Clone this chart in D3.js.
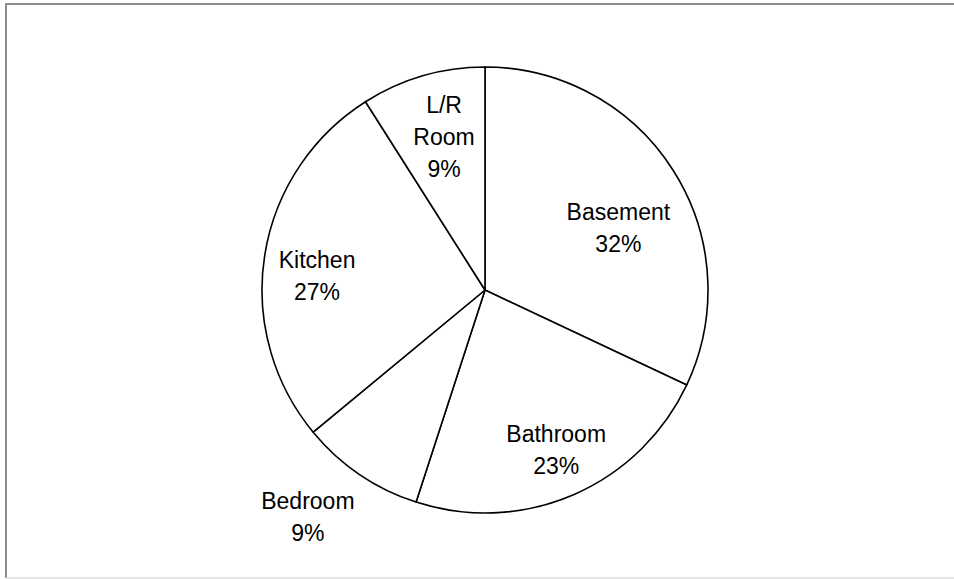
<!DOCTYPE html>
<html>
<head>
<meta charset="utf-8">
<script src="https://cdn.jsdelivr.net/npm/d3@7"></script>
<style>
  html, body { margin: 0; padding: 0; background: #fff; }
  svg { display: block; }
</style>
</head>
<body>
<div id="chart"></div>
<script>
// rooms and their share (percent), clockwise from 12 o'clock
const rooms = ["Basement", "Bathroom", "Bedroom", "Kitchen", "L/R Room"];
const shares = [32, 23, 9, 27, 9];
// how each label breaks into lines
const labelLines = [["Basement"], ["Bathroom"], ["Bedroom"], ["Kitchen"], ["L/R", "Room"]];

const width = 954;
const height = 579;
const cx = 485, cy = 290, radius = 223;

// label placement: angle (deg, clockwise from top) and distance as fraction of radius
const labelSpot = [
  { a: 65, r: 0.66 },
  { a: 156, r: 0.785 },
  { a: 218, r: 1.29 },
  { a: 275, r: 0.756 },
  { a: 345, r: 0.71 }
];

const data = rooms.map((room, i) => ({ room, share: shares[i], lines: labelLines[i].concat([shares[i] + "%"]), spot: labelSpot[i] }));

const svg = d3.select("#chart")
    .append("svg")
    .attr("width", width)
    .attr("height", height);

// frame
svg.append("line").attr("x1", 6).attr("x2", width).attr("y1", 4).attr("y2", 4)
    .attr("stroke", "#8c8c8c").attr("stroke-width", 2);
svg.append("line").attr("x1", 6).attr("x2", 6).attr("y1", 3).attr("y2", 578)
    .attr("stroke", "#8c8c8c").attr("stroke-width", 2);
svg.append("line").attr("x1", 6).attr("x2", width).attr("y1", 578).attr("y2", 578)
    .attr("stroke", "#dcdcdc").attr("stroke-width", 1.5);

const pie = d3.pie().sort(null).value(d => d.share);
const arc = d3.arc().innerRadius(0).outerRadius(radius);

const g = svg.append("g").attr("transform", `translate(${cx},${cy})`);

g.selectAll("path")
    .data(pie(data))
    .join("path")
    .attr("d", arc)
    .attr("fill", "#fff")
    .attr("stroke", "#000")
    .attr("stroke-width", 1.6)
    .attr("stroke-linejoin", "round");

const fontSize = 23;
const lineGap = 32;

const labels = g.selectAll("text.lbl")
    .data(data)
    .join("text")
    .attr("class", "lbl")
    .attr("text-anchor", "middle")
    .attr("font-family", "'Liberation Sans', Arial, sans-serif")
    .attr("font-size", fontSize)
    .attr("fill", "#000")
    .each(function (d) {
      const [x, y] = d3.pointRadial(d.spot.a * Math.PI / 180, d.spot.r * radius);
      const n = d.lines.length;
      // block from top of first cap to last baseline
      const blockH = (n - 1) * lineGap + fontSize * 0.716;
      const firstBase = y - blockH / 2 + fontSize * 0.716;
      d3.select(this).selectAll("tspan")
          .data(d.lines)
          .join("tspan")
          .attr("x", x)
          .attr("y", (t, i) => firstBase + i * lineGap)
          .text(t => t);
    });
</script>
</body>
</html>
